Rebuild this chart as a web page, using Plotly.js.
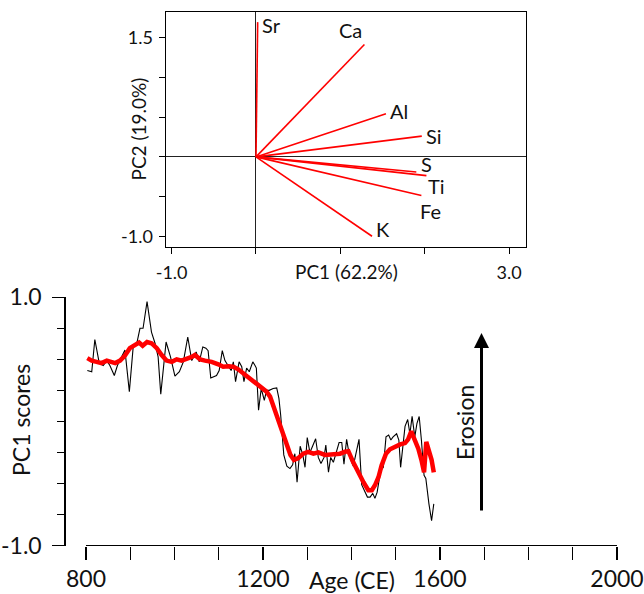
<!DOCTYPE html>
<html><head><meta charset="utf-8">
<script src="https://cdn.plot.ly/plotly-3.0.1.min.js"></script>
<style>html,body{margin:0;padding:0;background:#fff}#chart{width:644px;height:594px}</style>
</head><body><div id="chart"></div>
<script>
// ---- PCA loadings (top panel) ----
const elements = ['Sr','Ca','Al','Si','S','Ti','Fe','K'];
const loadingPC1 = [0.02, 1.285, 1.54, 1.965, 1.90, 2.02, 1.96, 1.375];
const loadingPC2 = [1.69, 1.41, 0.54, 0.26, -0.19, -0.235, -0.485, -0.995];
const pcaXTicks = [-1, 0, 1, 2, 3];
const pcaXTickText = ['-1.0', '', '', '', '3.0'];
const pcaYTicks = [-1, -0.5, 0, 0.5, 1, 1.5];
const pcaYTickText = ['-1.0', '', '', '', '', '1.5'];

// ---- PC1 scores time series (bottom panel) ----
const rawYears = [803,813,820,830,839,847,854,864,871,881,888,898,907,914,922,929,938,948,956,963,969,981,991,1001,1011,1020,1030,1039,1049,1056,1064,1071,1076,1082,1095,1101,1108,1114,1122,1128,1133,1138,1146,1152,1157,1163,1169,1177,1182,1185,1190,1196,1203,1208,1214,1223,1231,1236,1240,1247,1254,1261,1267,1272,1277,1284,1290,1295,1300,1306,1312,1319,1325,1331,1338,1342,1348,1353,1359,1365,1372,1378,1383,1389,1396,1404,1410,1417,1423,1430,1436,1442,1448,1453,1458,1466,1472,1478,1484,1489,1494,1502,1507,1511,1517,1521,1527,1532,1537,1543,1548,1553,1558,1564,1568,1571,1575,1581,1586];
const rawScores = [0.41,0.40,0.66,0.47,0.45,0.49,0.45,0.37,0.45,0.52,0.575,0.24,0.615,0.615,0.75,0.75,0.965,0.72,0.63,0.52,0.22,0.64,0.52,0.365,0.40,0.48,0.68,0.49,0.56,0.48,0.60,0.59,0.57,0.35,0.37,0.41,0.57,0.49,0.45,0.41,0.48,0.32,0.48,0.44,0.32,0.43,0.40,0.48,0.45,0.43,0.09,0.265,0.17,0.25,0.25,0.265,0.27,0.185,0.05,-0.27,-0.36,-0.38,-0.35,-0.26,-0.49,-0.20,-0.27,-0.37,-0.13,-0.25,-0.20,-0.14,-0.29,-0.34,-0.29,-0.19,-0.41,-0.29,-0.33,-0.245,-0.17,-0.17,-0.345,-0.145,-0.29,-0.36,-0.27,-0.145,-0.51,-0.57,-0.61,-0.61,-0.58,-0.62,-0.57,-0.395,-0.37,-0.125,-0.11,-0.15,-0.125,-0.10,-0.15,-0.37,-0.165,-0.04,0.015,-0.10,0.04,-0.125,-0.015,0.04,-0.15,-0.435,-0.46,-0.555,-0.665,-0.80,-0.665];
const smoothYears = [803,813,824,835,847,854,866,877,888,899,911,920,928,938,948,960,971,982,994,1005,1016,1027,1039,1046,1058,1069,1084,1099,1110,1122,1133,1144,1155,1167,1178,1189,1200,1208,1216,1223,1231,1238,1246,1255,1262,1270,1280,1291,1302,1314,1325,1340,1351,1363,1374,1385,1393,1404,1415,1427,1438,1446,1453,1461,1468,1478,1487,1498,1510,1521,1528,1535,1543,1551,1558,1564,1569,1573,1581,1586];
const smoothScores = [0.51,0.49,0.48,0.47,0.49,0.48,0.47,0.49,0.53,0.59,0.62,0.635,0.61,0.64,0.63,0.59,0.535,0.49,0.48,0.50,0.49,0.50,0.52,0.535,0.50,0.49,0.48,0.46,0.44,0.445,0.44,0.42,0.39,0.36,0.32,0.29,0.265,0.24,0.20,0.13,0.04,-0.03,-0.125,-0.205,-0.27,-0.31,-0.295,-0.26,-0.245,-0.26,-0.25,-0.27,-0.265,-0.26,-0.26,-0.245,-0.24,-0.33,-0.41,-0.49,-0.555,-0.555,-0.515,-0.45,-0.355,-0.26,-0.225,-0.205,-0.185,-0.175,-0.145,-0.08,-0.15,-0.22,-0.31,-0.41,-0.165,-0.205,-0.31,-0.41];
const ageTicks = [800,900,1000,1100,1200,1300,1400,1500,1600,1700,1800,1900,2000];
const ageTickText = ['800','','','','1200','','','','1600','','','','2000'];
const scoreMajorTicks = [-1, 1];
const scoreMajorText = ['-1.0', '1.0'];
const scoreMinorTicks = [-0.75,-0.5,-0.25,0,0.25,0.5,0.75];

// ---- build vectors from loadings ----
const vx = [], vy = [];
elements.forEach((e, i) => { vx.push(0, loadingPC1[i], null); vy.push(0, loadingPC2[i], null); });

const FONT = 'Lato, "Open Sans", sans-serif';
const W = 644, H = 594;
const px = v => v / W, py = v => 1 - v / H;

const labelAnchor = {
  Sr: ['left','middle',3,-3], Ca: ['right','bottom',-1,1], Al: ['left','middle',3,3],
  Si: ['left','middle',3,0], S: ['left','middle',4,8], Ti: ['left','top',1,3],
  Fe: ['center','top',9,-2], K: ['left','middle',3,7]
};

const traces = [
  {x: vx, y: vy, xaxis: 'x', yaxis: 'y', mode: 'lines', type: 'scatter',
   line: {color: '#ff0000', width: 1.6}, hoverinfo: 'skip', showlegend: false},
  {x: rawYears, y: rawScores, xaxis: 'x2', yaxis: 'y2', mode: 'lines', type: 'scatter',
   line: {color: '#000000', width: 1.1}, showlegend: false},
  {x: smoothYears, y: smoothScores, xaxis: 'x2', yaxis: 'y2', mode: 'lines', type: 'scatter',
   line: {color: '#ff0000', width: 4.5}, showlegend: false}
];

const annotations = elements.map((e, i) => ({
  x: loadingPC1[i], y: loadingPC2[i], xref: 'x', yref: 'y', text: e, showarrow: false,
  xanchor: labelAnchor[e][0], yanchor: labelAnchor[e][1],
  xshift: labelAnchor[e][2], yshift: labelAnchor[e][3], borderpad: 0,
  font: {family: FONT, size: 20, color: '#111'}
}));
const titleAnn = (text, x, y, size, angle) => ({
  x: px(x), y: py(y), xref: 'paper', yref: 'paper', text: text, showarrow: false,
  xanchor: 'center', yanchor: 'middle', textangle: angle || 0,
  font: {family: FONT, size: size, color: '#111'}
});
annotations.push(
  titleAnn('PC1 (62.2%)', 346, 271, 19),
  titleAnn('PC2 (19.0%)', 138, 129.5, 19, -90),
  titleAnn('PC1 scores', 21, 420, 23, -90),
  titleAnn('Age (CE)', 352, 580, 23),
  titleAnn('Erosion', 465, 423, 23, -90),
  {x: px(481.5), y: py(333), ax: px(481.5), ay: py(512), xref: 'paper', yref: 'paper',
   axref: 'paper', ayref: 'paper', text: '', showarrow: true, arrowhead: 2, arrowsize: 1,
   arrowwidth: 3, arrowcolor: '#000'}
);

const layout = {
  width: W, height: H, margin: {l: 0, r: 0, t: 0, b: 0},
  paper_bgcolor: '#fff', plot_bgcolor: '#fff', showlegend: false,
  font: {family: FONT, color: '#111'},
  xaxis: {domain: [165.7 / W, 526 / W], range: [-1.07, 3.2], anchor: 'y',
    tickmode: 'array', tickvals: pcaXTicks, ticktext: pcaXTickText,
    ticks: 'outside', ticklen: 6, tickcolor: '#000', tickwidth: 1,
    showline: true, mirror: true, linecolor: '#000', linewidth: 1.2,
    showgrid: false, zeroline: true, zerolinecolor: '#222', zerolinewidth: 1,
    tickfont: {family: FONT, size: 18, color: '#111'}, ticklabelstandoff: 3},
  yaxis: {domain: [py(247), py(12)], range: [-1.13, 1.817], anchor: 'x',
    tickmode: 'array', tickvals: pcaYTicks, ticktext: pcaYTickText,
    ticks: 'outside', ticklen: 6, tickcolor: '#000', tickwidth: 1,
    showline: true, mirror: true, linecolor: '#000', linewidth: 1.2,
    showgrid: false, zeroline: true, zerolinecolor: '#222', zerolinewidth: 1,
    tickfont: {family: FONT, size: 18, color: '#111'}, ticklabelstandoff: 2},
  xaxis2: {domain: [65.5 / W, 625 / W], range: [753.7, 2018.1], anchor: 'y2',
    tickmode: 'array', tickvals: ageTicks, ticktext: ageTickText,
    ticks: 'outside', ticklen: 13, tickcolor: '#000', tickwidth: 1.2,
    showline: false, showgrid: false, zeroline: false,
    tickfont: {family: FONT, size: 23, color: '#111'}, ticklabelstandoff: 0},
  yaxis2: {domain: [py(545.5), py(297.3)], range: [-1, 1], anchor: 'x2',
    tickmode: 'array', tickvals: scoreMajorTicks, ticktext: scoreMajorText,
    ticks: 'outside', ticklen: 12, tickcolor: '#000', tickwidth: 1.2,
    minor: {tickvals: scoreMinorTicks, ticks: 'outside', ticklen: 7, tickcolor: '#000', tickwidth: 1.2, showgrid: false},
    showline: true, linecolor: '#000', linewidth: 1.2,
    showgrid: false, zeroline: false,
    tickfont: {family: FONT, size: 23, color: '#111'}, ticklabelstandoff: 6},
  shapes: [
    {type: 'line', xref: 'x2', yref: 'y2 domain', x0: ageTicks[0], x1: ageTicks[ageTicks.length - 1],
     y0: 0, y1: 0, line: {color: '#000', width: 1.2}}
  ],
  annotations: annotations
};

Plotly.newPlot('chart', traces, layout, {staticPlot: true, displayModeBar: false});
</script></body></html>
